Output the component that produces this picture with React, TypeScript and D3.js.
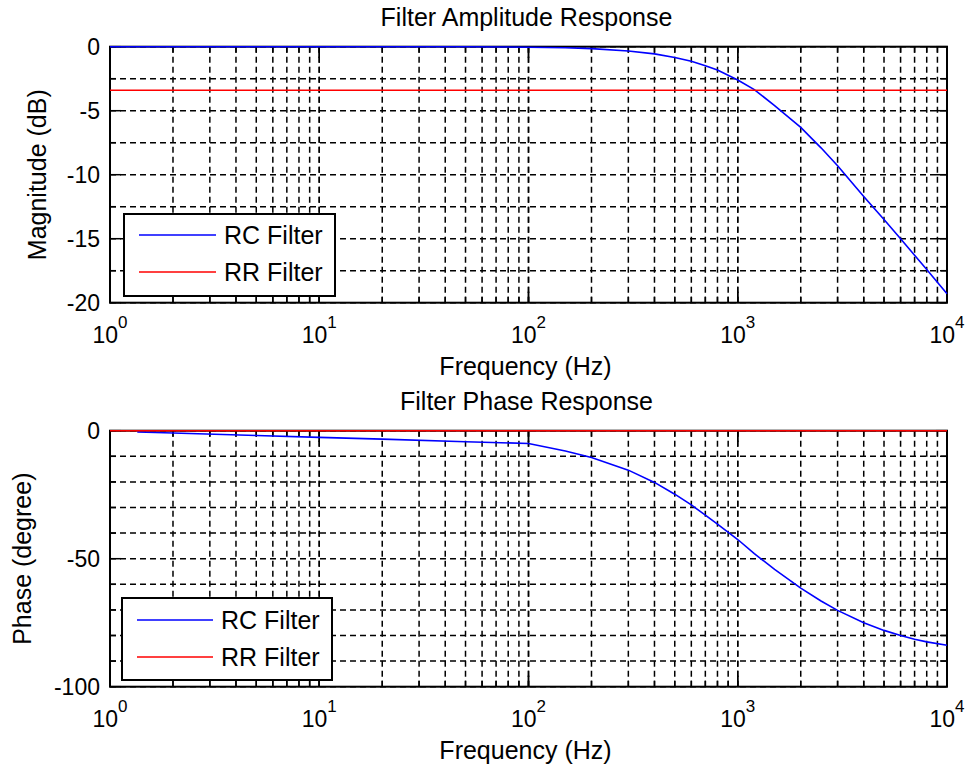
import React from "react";
import * as d3 from "d3";

// ---- data ----
const magFreqs = [1, 2, 5, 10, 20, 50, 100, 150, 200, 300, 400, 500, 600, 700, 800, 1000, 1200, 1500, 2000, 2500, 3000, 4000, 5000, 6000, 7000, 8000, 10000];
const rcMagDb = [0, 0, 0, 0, 0, 0, -0.04, -0.08, -0.15, -0.33, -0.56, -0.84, -1.14, -1.48, -1.82, -2.6, -3.35, -4.6, -6.3, -7.9, -9.3, -11.7, -13.5, -15.0, -16.3, -17.4, -19.3];
const rrMagFreqs = [1, 10000];
const rrMagDb = [-3.4, -3.4];

const phaseFreqs = [1.35, 2, 5, 10, 20, 50, 100, 150, 200, 300, 400, 500, 600, 700, 800, 1000, 1200, 1500, 2000, 2500, 3000, 4000, 5000, 6000, 7000, 8000, 10000];
const rcPhaseDeg = [-0.5, -0.9, -1.9, -2.6, -3.3, -4.3, -5.0, -7.9, -10.5, -15.4, -20.2, -24.8, -29, -33, -36.5, -42.5, -48, -54.2, -61.5, -66.5, -70.2, -75, -78, -80, -81.5, -82.5, -83.8];
const rrPhaseFreqs = [1, 10000];
const rrPhaseDeg = [0, 0];

const xMajorTicks = [1, 10, 100, 1000, 10000];
const xExponents = ["0", "1", "2", "3", "4"];
const magYMajor = [0, -5, -10, -15, -20];
const magYMinor = [0, -2.5, -5, -7.5, -10, -12.5, -15, -17.5, -20];
const phaseYMajor = [0, -50, -100];
const phaseYMinor = [0, -10, -20, -30, -40, -50, -60, -70, -80, -90, -100];
const legendNames = ["RC Filter", "RR Filter"];
const seriesColors = ["#0000ff", "#ff0000"];

const FONT = "'Liberation Sans', Arial, Helvetica, sans-serif";
const X0 = 110;
const X1 = 947;

type Series = { fx: number[]; fy: number[]; color: string };

function xMinorTicks(): number[] {
  const out: number[] = [];
  for (let k = 0; k < 4; k++) {
    for (let m = 1; m <= 10; m++) out.push(m * Math.pow(10, k));
  }
  return out;
}

function Plot(props: {
  top: number;
  height: number;
  yDomain: [number, number];
  yMajor: number[];
  yMinor: number[];
  yLabel: string;
  yLabelX: number;
  title: string;
  series: Series[];
  legend: { x: number; y: number; w: number; h: number; lineX0: number; lineX1: number; rowY: number[]; textX: number };
}) {
  const { top, height, yDomain, yMajor, yMinor, yLabel, yLabelX, title, series, legend } = props;
  const bottom = top + height;
  const x = d3.scaleLog().domain([1, 10000]).range([X0, X1]);
  const y = d3.scaleLinear().domain(yDomain).range([bottom, top]);
  const line = d3
    .line<[number, number]>()
    .x((d) => x(d[0]))
    .y((d) => y(d[1]));
  const minors = xMinorTicks();
  const majTick = 11;
  const minTick = 6;
  return (
    <g>
      {/* grid */}
      {minors.map((f, i) => (
        <line key={"gx" + i} x1={x(f)} x2={x(f)} y1={top} y2={bottom} stroke="#000" strokeWidth={1.5} strokeDasharray="6,4" />
      ))}
      {yMinor.map((v, i) => (
        <line key={"gy" + i} x1={X0} x2={X1} y1={y(v)} y2={y(v)} stroke="#000" strokeWidth={1.5} strokeDasharray="6,4" />
      ))}
      {/* ticks */}
      {minors.map((f, i) => {
        const len = xMajorTicks.includes(f) ? majTick : minTick;
        return (
          <g key={"tx" + i}>
            <line x1={x(f)} x2={x(f)} y1={bottom} y2={bottom - len} stroke="#000" strokeWidth={1.5} />
            <line x1={x(f)} x2={x(f)} y1={top} y2={top + len} stroke="#000" strokeWidth={1.5} />
          </g>
        );
      })}
      {yMinor.map((v, i) => {
        const len = yMajor.includes(v) ? majTick : minTick;
        return (
          <g key={"ty" + i}>
            <line x1={X0} x2={X0 + len} y1={y(v)} y2={y(v)} stroke="#000" strokeWidth={1.5} />
            <line x1={X1} x2={X1 - len} y1={y(v)} y2={y(v)} stroke="#000" strokeWidth={1.5} />
          </g>
        );
      })}
      {/* box */}
      <rect x={X0} y={top} width={X1 - X0} height={height} fill="none" stroke="#000" strokeWidth={2} />
      {/* tick labels */}
      {yMajor.map((v, i) => (
        <text key={"yl" + i} x={100} y={y(v)} dy="0.35em" textAnchor="end" fontFamily={FONT} fontSize={23} fill="#000">
          {v}
        </text>
      ))}
      {xMajorTicks.map((f, i) => (
        <g key={"xl" + i}>
          <text x={x(f) + 8} y={bottom + 40} textAnchor="end" fontFamily={FONT} fontSize={23} fill="#000">
            10
          </text>
          <text x={x(f) + 8} y={bottom + 25} textAnchor="start" fontFamily={FONT} fontSize={17} fill="#000">
            {xExponents[i]}
          </text>
        </g>
      ))}
      {/* labels */}
      <text x={(X0 + X1) / 2 - 2} y={top - 21} textAnchor="middle" fontFamily={FONT} fontSize={25} fill="#000">
        {title}
      </text>
      <text x={(X0 + X1) / 2 - 3} y={bottom + 72} textAnchor="middle" fontFamily={FONT} fontSize={25} fill="#000">
        Frequency (Hz)
      </text>
      <text
        transform={`translate(${yLabelX},${top + height / 2}) rotate(-90)`}
        textAnchor="middle"
        fontFamily={FONT}
        fontSize={25}
        fill="#000"
      >
        {yLabel}
      </text>
      {/* data */}
      {series.map((s, i) => (
        <path
          key={"s" + i}
          d={line(s.fx.map((f, j) => [f, s.fy[j]] as [number, number])) || ""}
          fill="none"
          stroke={s.color}
          strokeWidth={1.6}
        />
      ))}
      {/* legend */}
      <rect x={legend.x} y={legend.y} width={legend.w} height={legend.h} fill="#fff" stroke="#000" strokeWidth={2} />
      {legendNames.map((n, i) => (
        <g key={"lg" + i}>
          <line x1={legend.lineX0} x2={legend.lineX1} y1={legend.rowY[i]} y2={legend.rowY[i]} stroke={seriesColors[i]} strokeWidth={1.6} />
          <text x={legend.textX} y={legend.rowY[i]} dy="0.36em" fontFamily={FONT} fontSize={25} fill="#000">
            {n}
          </text>
        </g>
      ))}
    </g>
  );
}

export default function App() {
  return (
    <div style={{ position: "absolute", left: 0, top: 0 }}>
      <svg width={967} height={769} style={{ display: "block", background: "#fff" }}>
        <rect x={0} y={0} width={967} height={769} fill="#fff" />
        <Plot
          top={46.7}
          height={256}
          yDomain={[-20, 0]}
          yMajor={magYMajor}
          yMinor={magYMinor}
          yLabel="Magnitude (dB)"
          yLabelX={46}
          title="Filter Amplitude Response"
          series={[
            { fx: magFreqs, fy: rcMagDb, color: seriesColors[0] },
            { fx: rrMagFreqs, fy: rrMagDb, color: seriesColors[1] },
          ]}
          legend={{ x: 124, y: 214, w: 211, h: 82, lineX0: 139, lineX1: 216, rowY: [235, 272], textX: 224 }}
        />
        <Plot
          top={430.7}
          height={256}
          yDomain={[-100, 0]}
          yMajor={phaseYMajor}
          yMinor={phaseYMinor}
          yLabel="Phase (degree)"
          yLabelX={31}
          title="Filter Phase Response"
          series={[
            { fx: phaseFreqs, fy: rcPhaseDeg, color: seriesColors[0] },
            { fx: rrPhaseFreqs, fy: rrPhaseDeg, color: seriesColors[1] },
          ]}
          legend={{ x: 122, y: 598, w: 210, h: 82, lineX0: 137, lineX1: 213, rowY: [620, 657], textX: 221 }}
        />
      </svg>
    </div>
  );
}
